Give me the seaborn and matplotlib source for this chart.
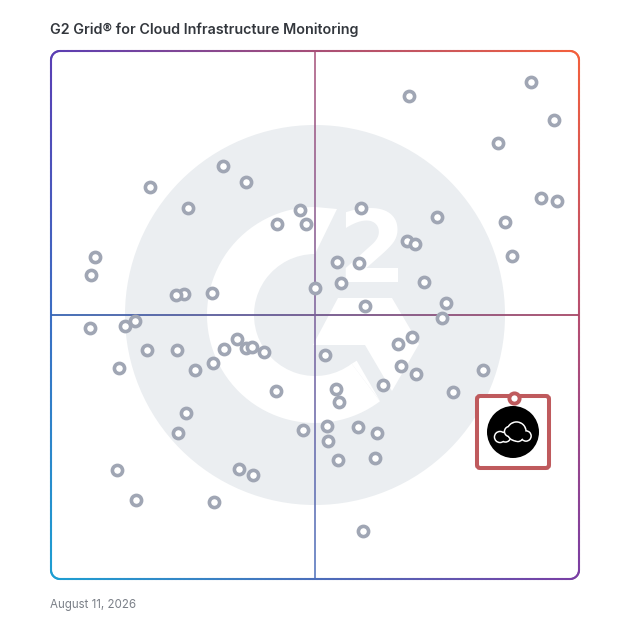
import numpy as np
import pandas as pd
import matplotlib

matplotlib.use('Agg')

import matplotlib.pyplot as plt
import seaborn as sns
from matplotlib.collections import LineCollection
from matplotlib.patches import Circle, FancyBboxPatch, Polygon, Wedge

sns.set_theme(style="white")
plt.rcParams['font.family'] = ['Inter', 'DejaVu Sans']

# scores on the grid, 0-528 on both axes
satisfaction = [172.3, 195.3, 99, 137.3, 249.3, 226, 255, 310, 386, 356.3, 364, 454.5,
                461, 286.7, 308, 290.3, 373.7, 264, 161, 133.3, 125.7, 395.7, 314, 391,
                84, 74, 361, 347, 186.7, 195, 201.7, 173.7, 213.7, 96.3, 126, 274.7,
                162, 144.7, 350, 365.7, 432.3, 332.3, 285.3, 225.7, 402.3, 288, 135.7, 127.3,
                252.3, 276, 277.7, 307.7, 326.3, 287, 324, 188.3, 202.7, 85.7, 163, 358.5,
                480, 503, 447, 490, 506.5, 44, 40, 39, 68, 66.5, 312.5]
market_presence = [412.3, 396.3, 391.3, 370.3, 368.7, 355, 354.3, 370.3, 361.3, 337.7, 335, 356.7,
                   322.3, 316.3, 315.3, 295.3, 296.7, 290.7, 285.7, 284.3, 283.3, 276, 272.7, 261,
                   257.3, 252.7, 241.3, 234.7, 239.7, 231, 231.3, 229.3, 227, 228.7, 228.3, 224,
                   216, 209, 212.3, 204.7, 209, 194, 190, 188, 186.3, 176.3, 165.7, 146,
                   148.7, 153, 138, 151.3, 145.3, 118.3, 120.3, 109.3, 103.7, 78.3, 76.3, 483,
                   497, 459, 436, 381, 378, 322, 304, 251, 211, 109, 48]
highlight_x = [463.5]
highlight_y = [181]

title = "G2 Grid\u00ae for Cloud Infrastructure Monitoring"
date_label = "August 11, 2026"

ring_color = "#a0a6b4"
red = "#bf5a5d"
logo_gray = "#ebeef1"


def px(x, y):
    # picture pixels to grid units
    return x - 51, 579 - y


def blend(x, y):
    # corner colours of the frame, x and y in 0-1
    tl = np.array(matplotlib.colors.to_rgb("#5a3eb4"))
    tr = np.array(matplotlib.colors.to_rgb("#f4603c"))
    bl = np.array(matplotlib.colors.to_rgb("#1d9fd2"))
    br = np.array(matplotlib.colors.to_rgb("#7a3ea4"))
    top = tl * (1 - x) + tr * x
    bottom = bl * (1 - x) + br * x
    return top * y + bottom * (1 - y)


def draw_logo(ax):
    cx, cy = px(315, 315)
    ax.add_patch(Circle((cx, cy), 190, fc=logo_gray, ec="none", zorder=1))
    # the G: open ring, ends cut along the slanted edges
    ax.add_patch(Wedge((cx, cy), 108, 90, 307, width=47, fc="white", ec="none", zorder=2))
    top_end = [(315, 207), (337, 209), (315, 254)]
    ax.add_patch(Polygon([px(*p) for p in top_end], fc="white", ec="none", zorder=2))
    low_end = [(356.7, 360.7), (380, 401), (351.7, 363.8)]
    ax.add_patch(Polygon([px(*p) for p in low_end], fc="white", ec="none", zorder=2))
    chevron = [(338, 298), (392, 298), (419, 344), (392, 391), (365, 345), (313, 345)]
    ax.add_patch(Polygon([px(*p) for p in chevron], fc="white", ec="none", zorder=2))
    x2, y2 = px(372, 282)
    ax.text(x2, y2, "2", color="white", fontsize=71, fontweight="bold", family="DejaVu Sans",
            ha="center", va="baseline", zorder=2)


def draw_frame(ax):
    # gradient rounded frame, chopped in short pieces
    n = 200
    r = 9
    left, right, bottom, top = 0, 528, 0, 528
    pts = []
    for a0, ccx, ccy in [(90, right - r, top - r), (0, right - r, bottom + r),
                         (-90, left + r, bottom + r), (180, left + r, top - r)]:
        ang = np.radians(np.linspace(a0, a0 - 90, 12))
        pts.append(np.column_stack([ccx + r * np.cos(ang), ccy + r * np.sin(ang)]))
    pts = np.vstack(pts + [pts[0][:1]])
    path = []
    for p, q in zip(pts[:-1], pts[1:]):
        steps = max(int(np.hypot(*(q - p)) / 4), 1)
        t = np.linspace(0, 1, steps + 1)[:, None]
        path.append(p + (q - p) * t)
    path = np.vstack(path)
    segs = np.stack([path[:-1], path[1:]], axis=1)
    cols = [blend(s[:, 0].mean() / 528, s[:, 1].mean() / 528) for s in segs]
    ax.add_collection(LineCollection(segs, colors=cols, linewidths=1.5, capstyle="round", zorder=3))

    t = np.linspace(0, 528, n + 1)
    h = np.column_stack([t, np.full_like(t, 264)])
    segs = np.stack([h[:-1], h[1:]], axis=1)
    cols = [blend(s[:, 0].mean() / 528, 0.5) * 0.92 for s in segs]
    ax.add_collection(LineCollection(segs, colors=cols, linewidths=1.3, capstyle="butt", zorder=3))
    v = np.column_stack([np.full_like(t, 264), t])
    segs = np.stack([v[:-1], v[1:]], axis=1)
    cols = [blend(0.5, s[:, 1].mean() / 528) for s in segs]
    ax.add_collection(LineCollection(segs, colors=cols, linewidths=1.3, alpha=0.85, capstyle="butt", zorder=3))


def draw_highlight(ax):
    x0, y0 = px(477, 468)
    ax.add_patch(FancyBboxPatch((x0, y0), 72, 72, boxstyle="round,pad=0,rounding_size=3",
                                fc="white", ec=red, lw=2.9, zorder=5))
    cx, cy = px(513, 432)
    ax.add_patch(Circle((cx, cy), 26, fc="black", ec="none", zorder=6))
    # cloud icon, white outline made from stacked circles
    big = [(516.5, 431.5, 9), (526, 436, 4.6), (509.5, 431.5, 4.5), (518, 436.5, 4.5)]
    small = [(500, 437, 5), (505.5, 437, 4.5)]
    for group in (small, big):
        for x, y, r in group:
            ax.add_patch(Circle(px(x, y), r + 1.3, fc="white", ec="none", zorder=7))
        for x, y, r in group:
            ax.add_patch(Circle(px(x, y), r - 0.2, fc="black", ec="none", zorder=7))


fig = plt.figure(figsize=(6.28, 6.28), dpi=100)
ax = fig.add_axes([0, 0, 1, 1])
ax.set_xlim(-51, 577)
ax.set_ylim(-49, 579)
ax.axis("off")

draw_logo(ax)
draw_frame(ax)
draw_highlight(ax)

df = pd.DataFrame({"satisfaction": np.array(satisfaction) - 0.5,
                   "market_presence": np.array(market_presence) + 0.4})
sns.scatterplot(data=df, x="satisfaction", y="market_presence", ax=ax, s=54,
                color="white", edgecolor=ring_color, linewidth=2.6, zorder=4, legend=False)
top_df = pd.DataFrame({"satisfaction": np.array(highlight_x) - 0.5, "market_presence": highlight_y})
sns.scatterplot(data=top_df, x="satisfaction", y="market_presence", ax=ax, s=54,
                color="white", edgecolor=red, linewidth=2.8, zorder=8, legend=False)
ax.set_xlim(-51, 577)
ax.set_ylim(-49, 579)

fig.text(50 / 628, 1 - 29.5 / 628, title, fontsize=10.3, fontweight="semibold", color="#33373d",
         ha="left", va="center")
fig.text(50 / 628, 1 - 605 / 628, date_label, fontsize=8.3, color="#7b8088", ha="left", va="center")

fig.savefig("out.png", dpi=100)
